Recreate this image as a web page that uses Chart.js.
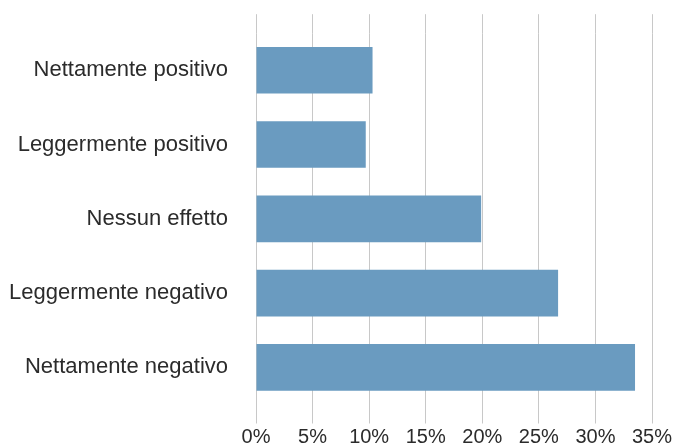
<!DOCTYPE html>
<html>
<head>
<meta charset="utf-8">
<script src="https://cdn.jsdelivr.net/npm/chart.js@4/dist/chart.umd.min.js"></script>
<style>
  body { margin: 0; background: #fff; }
  #wrap { width: 675px; height: 447px; }
</style>
</head>
<body>
<div id="wrap"><canvas id="effettoChart"></canvas></div>
<script>
const categorie = ['Nettamente positivo', 'Leggermente positivo', 'Nessun effetto', 'Leggermente negativo', 'Nettamente negativo'];
const percentuali = [10.3, 9.7, 19.9, 26.7, 33.5];
const tickValori = [0, 5, 10, 15, 20, 25, 30, 35];

const gridColor = '#c8c8c8';
const textColor = '#2b2b2b';

const ctx = document.getElementById('effettoChart').getContext('2d');

const effettoChart = new Chart(ctx, {
  type: 'bar',
  data: {
    labels: categorie,
    datasets: [{
      label: 'Risposte',
      data: percentuali,
      backgroundColor: '#6a9bc0',
      barPercentage: 0.627,
      categoryPercentage: 1
    }]
  },
  options: {
    indexAxis: 'y',
    responsive: true,
    maintainAspectRatio: false,
    animation: false,
    layout: {
      padding: { top: 13, right: 23, left: 0, bottom: 0 }
    },
    plugins: {
      legend: { display: false },
      tooltip: { enabled: false }
    },
    scales: {
      x: {
        position: 'bottom',
        min: 0,
        max: 35,
        afterBuildTicks: (scale) => {
          scale.ticks = tickValori.map(v => ({ value: v }));
        },
        afterFit: (scale) => {
          scale.height = 42.5;
        },
        grid: {
          color: gridColor,
          lineWidth: 1,
          tickLength: 19,
          drawTicks: true
        },
        border: { display: false },
        ticks: {
          padding: 2,
          color: textColor,
          font: { family: 'Liberation Sans, Arial, sans-serif', size: 20 },
          callback: (v) => v + '%'
        }
      },
      xTop: {
        axis: 'x',
        position: 'top',
        min: 0,
        max: 35,
        afterBuildTicks: (scale) => {
          scale.ticks = tickValori.map(v => ({ value: v }));
        },
        afterFit: (scale) => {
          scale.height = 19;
        },
        grid: {
          color: gridColor,
          lineWidth: 1,
          tickLength: 19,
          drawOnChartArea: false
        },
        border: { display: false },
        ticks: { display: false }
      },
      y: {
        afterFit: (scale) => {
          scale.width = 256;
        },
        grid: { display: false },
        border: { display: false },
        ticks: {
          padding: 20,
          color: textColor,
          font: { family: 'Liberation Sans, Arial, sans-serif', size: 22 }
        }
      }
    }
  }
});
</script>
</body>
</html>
